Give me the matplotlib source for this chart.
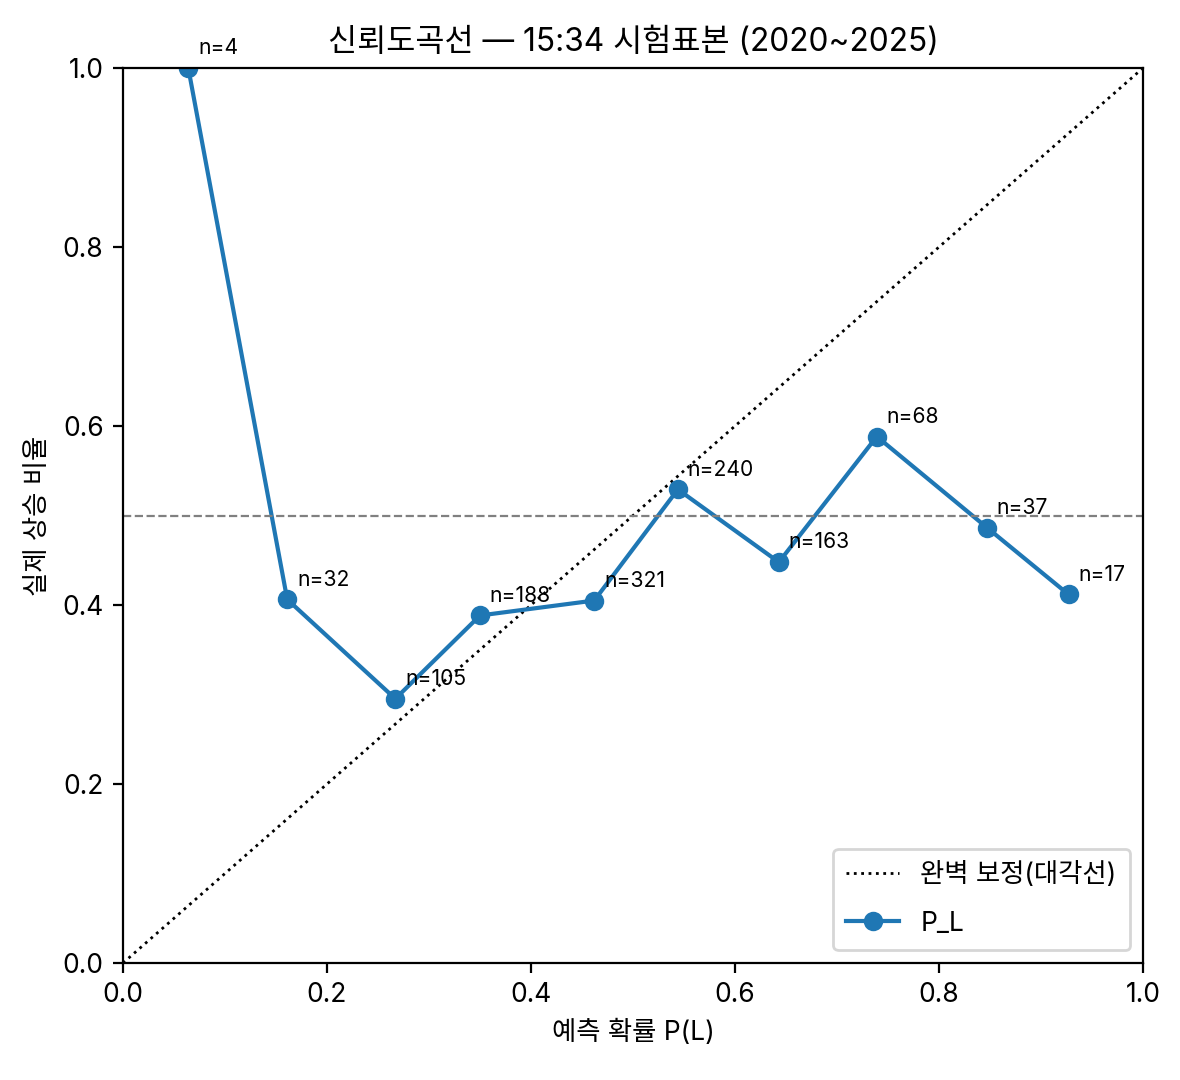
import matplotlib
matplotlib.use("Agg")
import matplotlib.pyplot as plt

plt.rcParams['font.family'] = ['Inter', 'Noto Sans CJK KR', 'DejaVu Sans']
plt.rcParams['axes.unicode_minus'] = False

pred = [0.064, 0.161, 0.267, 0.350, 0.462, 0.544, 0.643, 0.739, 0.847, 0.927]
actual = [1.0, 13/32, 31/105, 73/188, 130/321, 127/240, 73/163, 40/68, 18/37, 7/17]
counts = [4, 32, 105, 188, 321, 240, 163, 68, 37, 17]

fig = plt.figure(figsize=(5.9, 5.4), dpi=200)
ax = fig.add_axes([123/1180, 1 - 963/1080, (1143 - 123)/1180, (963 - 68)/1080])
ax.plot([0, 1], [0, 1], linestyle=':', color='black', linewidth=1, label='완벽 보정(대각선)')
ax.plot(pred, actual, marker='o', color='#1f77b4', label='P_L')
for x, y, n in zip(pred, actual, counts):
    ax.annotate(f'n={n}', (x, y), textcoords='offset points', xytext=(3.5, 5), fontsize=7.6)
ax.axhline(0.5, color='gray', linestyle='--', linewidth=0.8)
ax.set_xlim(0, 1)
ax.set_ylim(0, 1)
ax.set_xlabel('예측 확률 P(L)', fontsize=9.5)
ax.set_ylabel('실제 상승 비율', fontsize=9.5)
ax.set_title('신뢰도곡선 — 15:34 시험표본 (2020~2025)', fontsize=11.4)
ax.tick_params(labelsize=9.5)
ax.legend(loc='lower right', fontsize=9.5, borderpad=0.5, labelspacing=0.85)
fig.savefig('out.png', dpi=200)
